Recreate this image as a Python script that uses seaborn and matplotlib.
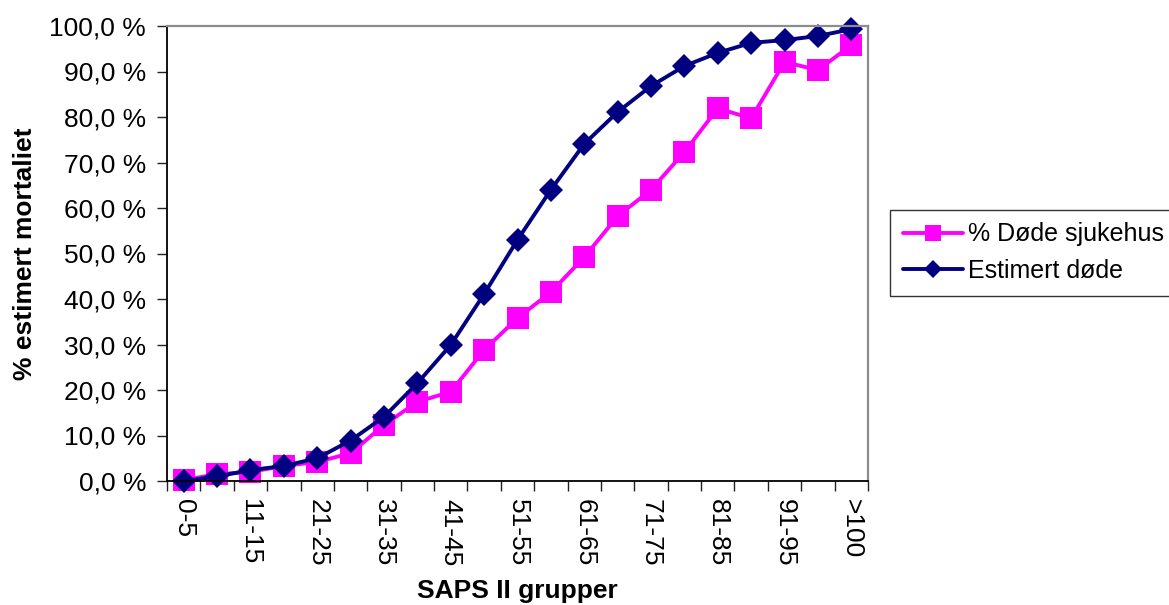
"""SAPS II-grupper: observert vs estimert mortalitet."""
import matplotlib
matplotlib.use("Agg")
import matplotlib.pyplot as plt
import numpy as np
import pandas as pd
import seaborn as sns

categories = ["0-5", "6-10", "11-15", "16-20", "21-25", "26-30", "31-35",
              "36-40", "41-45", "46-50", "51-55", "56-60", "61-65", "66-70",
              "71-75", "76-80", "81-85", "86-90", "91-95", "96-100", ">100"]
dode_sjukehus = [0.2, 1.5, 2.0, 3.3, 4.2, 6.1, 12.3, 17.4, 19.6, 28.8, 35.8,
                 41.5, 49.2, 58.2, 64.0, 72.3, 81.9, 79.7, 92.1, 90.3, 95.8]
estimert_dode = [0.0, 1.0, 2.4, 3.3, 5.0, 8.9, 14.1, 21.5, 29.9, 41.1, 53.0,
                 64.0, 74.1, 81.1, 86.8, 91.2, 94.1, 96.3, 96.9, 97.8, 99.3]
yticks = np.arange(0, 101, 10)

PINK = "#FF00FF"
NAVY = "#000080"
FS = 19

sns.set_style("white")
plt.rcParams["font.family"] = ["Liberation Sans", "DejaVu Sans"]
plt.rcParams["text.color"] = "black"
plt.rcParams["xtick.color"] = "black"
plt.rcParams["ytick.color"] = "black"
plt.rcParams["axes.labelcolor"] = "black"

df = pd.DataFrame({
    "pos": np.arange(len(categories)),
    "gruppe": categories,
    "dode": dode_sjukehus,
    "est": estimert_dode,
})

fig = plt.figure(figsize=(11.69, 6.05), dpi=100)
ax = fig.add_axes([167 / 1169, 1 - 481 / 605, 701 / 1169, 455 / 605])

sns.lineplot(data=df, x="pos", y="dode", ax=ax, color=PINK, lw=2.8,
             marker="s", markersize=16, markeredgewidth=0, clip_on=False,
             label="% Døde sjukehus")
sns.lineplot(data=df, x="pos", y="est", ax=ax, color=NAVY, lw=2.8,
             marker="D", markersize=12.5, markeredgewidth=0, clip_on=False,
             label="Estimert døde")

n = len(categories)
ax.set_xlim(-0.5, n - 0.5)
ax.set_ylim(0, 100)
ax.set_xticks(df["pos"][::2])
ax.set_xticklabels(categories[::2], rotation=270, fontsize=FS, va="top")
ax.set_xticks(np.arange(-0.5, n, 1), minor=True)
ax.tick_params(axis="x", which="major", length=0, pad=13)
ax.tick_params(axis="x", which="minor", length=7, width=1, color="#222222",
               direction="out", bottom=True)
ax.set_yticks(yticks)
ax.set_yticklabels([f"{v:.1f} %".replace(".", ",") for v in yticks], fontsize=FS)
ax.tick_params(axis="y", length=7, width=1, color="#222222", direction="out",
               left=True, pad=8)

for side in ("left", "bottom"):
    ax.spines[side].set_color("black")
    ax.spines[side].set_linewidth(1.3)
for side in ("top", "right"):
    ax.spines[side].set_color("#8c8c8c")
    ax.spines[side].set_linewidth(1.6)

ax.set_xlabel("SAPS II grupper", fontsize=FS, fontweight="bold", labelpad=9)
ax.set_ylabel("% estimert mortaliet", fontsize=FS, fontweight="bold", labelpad=9)

leg = ax.legend(loc="upper left", bbox_to_anchor=(890 / 1169, 1 - 210 / 605),
                bbox_transform=fig.transFigure, borderaxespad=0, fontsize=18,
                frameon=True, fancybox=False, edgecolor="black",
                handlelength=2.4, handletextpad=0.2, borderpad=0.5,
                labelspacing=0.5, markerscale=0.75)
leg.get_frame().set_linewidth(1.0)

fig.savefig("out.png", dpi=100, facecolor="white")
